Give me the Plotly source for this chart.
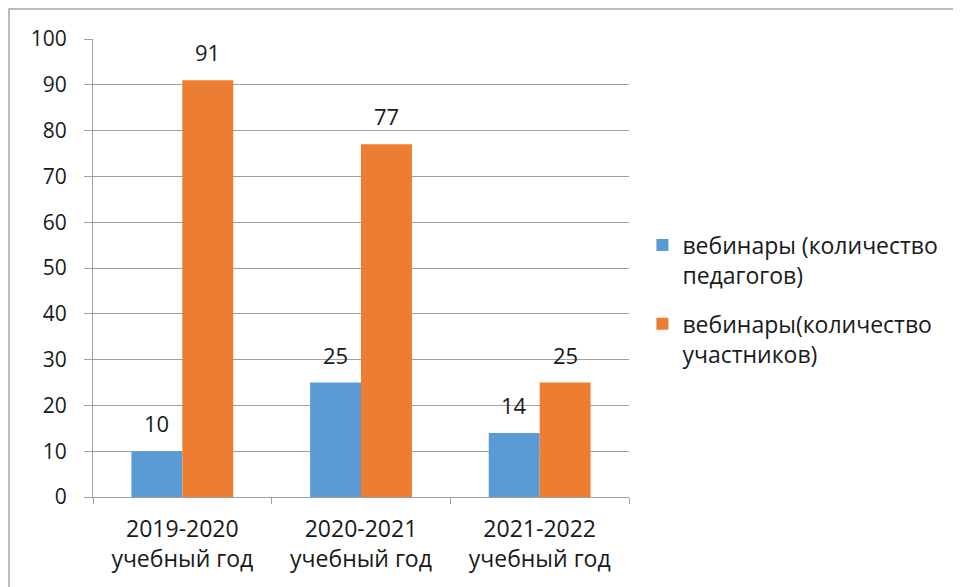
import plotly.graph_objects as go

categories = ["2019-2020<br>учебный год", "2020-2021<br>учебный год", "2021-2022<br>учебный год"]
series_names = ["вебинары (количество<br>педагогов)", "вебинары(количество<br>участников)"]
teachers = [10, 25, 14]
participants = [91, 77, 25]
colors = ["#5B9BD5", "#ED7D31"]
y_ticks = [0, 10, 20, 30, 40, 50, 60, 70, 80, 90, 100]

font_family = "Open Sans, Noto Sans, sans-serif"

fig = go.Figure()
for i, (name, vals, col) in enumerate(zip(series_names, [teachers, participants], colors)):
    fig.add_trace(go.Bar(x=categories, y=vals, name=name, marker_color=col,
                         marker_line_width=0, legendgroup=f"g{i}"))

# data labels
for vals, shift in [(teachers, -25.5), (participants, 25.5)]:
    for c, v in zip(categories, vals):
        fig.add_annotation(x=c, y=v, text=str(v), showarrow=False, xshift=shift,
                           yanchor="bottom", yshift=11,
                           font=dict(size=22, color="#1a1a1a", family=font_family))

fig.add_shape(type="rect", xref="paper", yref="paper", x0=-0.1567, y0=-0.4,
              x1=1.8, y1=1.0655, line=dict(color="#a6a6a6", width=1.5), layer="below")

fig.update_layout(
    width=953, height=579,
    margin=dict(l=85, r=332, t=31, b=90),
    paper_bgcolor="white", plot_bgcolor="white",
    barmode="group", bargap=0.43, bargroupgap=0,
    font=dict(family=font_family, size=21, color="#1a1a1a"),
    showlegend=True,
    legend=dict(x=1.025, y=0.597, xanchor="left", yanchor="top", valign="top",
                font=dict(size=23, color="#1a1a1a"), tracegroupgap=16,
                itemwidth=30, borderwidth=0),
)
fig.update_xaxes(showgrid=False, showline=True, linecolor="#a0a0a0", linewidth=1.2,
                 ticks="outside", ticklen=6, tickcolor="#a0a0a0",
                 tickson="boundaries", tickfont=dict(size=23), ticklabelstandoff=11)
fig.update_yaxes(range=[0, 100], tickvals=y_ticks, showgrid=True, gridcolor="#a0a0a0",
                 gridwidth=1, showline=True, linecolor="#a0a0a0", linewidth=1.2,
                 ticks="outside", ticklen=8, tickcolor="#a0a0a0", zeroline=False,
                 tickfont=dict(size=21), ticklabelstandoff=13)

fig.write_html("out.html")
